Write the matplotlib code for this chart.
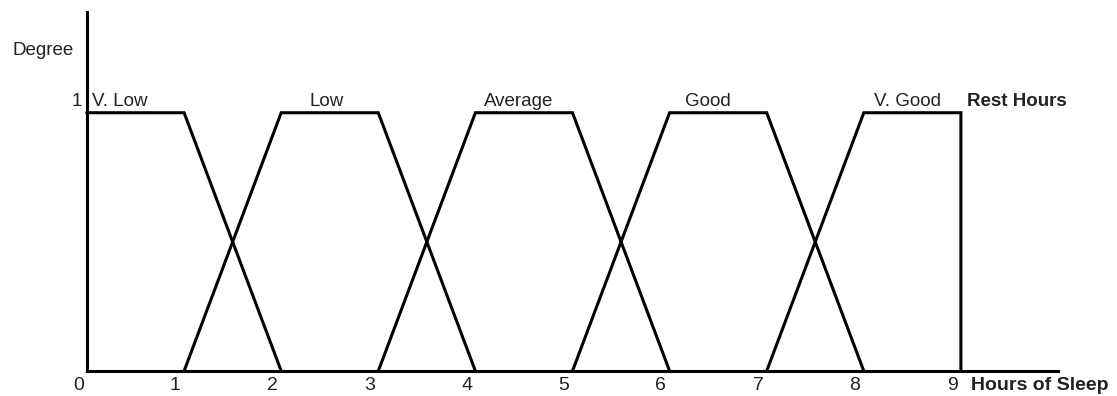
import matplotlib
matplotlib.use("Agg")
import matplotlib.pyplot as plt

plt.rcParams['font.family'] = ['Liberation Sans', 'DejaVu Sans']

# membership functions (x = hours, y = degree)
vlow_x = [0, 1, 2]
vlow_y = [1, 1, 0]
low_x = [1, 2, 3, 4]
low_y = [0, 1, 1, 0]
avg_x = [3, 4, 5, 6]
avg_y = [0, 1, 1, 0]
good_x = [5, 6, 7, 8]
good_y = [0, 1, 1, 0]
vgood_x = [7, 8, 9, 9]
vgood_y = [0, 1, 1, 0]

set_names = ['V. Low', 'Low', 'Average', 'Good', 'V. Good']
name_x = [0.05, 2.47, 4.45, 6.39, 8.45]
tick_vals = [0, 1, 2, 3, 4, 5, 6, 7, 8, 9]

W, H = 1117, 396
fig = plt.figure(figsize=(W / 100, H / 100), dpi=100)
ax = fig.add_axes([87 / W, 25 / H, (1058 - 87) / W, (371 - 12) / H])
ax.set_xlim(0, 10)
ax.set_ylim(0, 1.39)

lw = 2.2
for xs, ys in [(vlow_x, vlow_y), (low_x, low_y), (avg_x, avg_y),
               (good_x, good_y), (vgood_x, vgood_y)]:
    ax.plot(xs, ys, color='black', lw=lw, solid_joinstyle='miter', clip_on=False)

for s in ['top', 'right']:
    ax.spines[s].set_visible(False)
for s in ['left', 'bottom']:
    ax.spines[s].set_linewidth(lw)
ax.set_xticks([])
ax.set_yticks([])

for i, name in enumerate(set_names):
    ha = 'left' if i == 0 else 'center'
    ax.text(name_x[i], 1.025, name, ha=ha, va='baseline', fontsize=13.5, color='#222222')

for t in tick_vals:
    ax.text(t - 0.09, -0.055, str(t), ha='center', va='center', fontsize=14, color='#222222')

ax.text(-0.05, 1.025, '1', ha='right', va='baseline', fontsize=13.5, color='#222222')
ax.text(-0.14, 1.24, 'Degree', ha='right', va='center', fontsize=13.5, color='#222222')
ax.text(9.06, 1.025, 'Rest Hours', ha='left', va='baseline', fontsize=13.5, fontweight='bold', color='#222222')
ax.text(9.1, -0.055, 'Hours of Sleep', ha='left', va='center', fontsize=14, fontweight='bold', color='#222222')

fig.savefig('out.png', dpi=100)
